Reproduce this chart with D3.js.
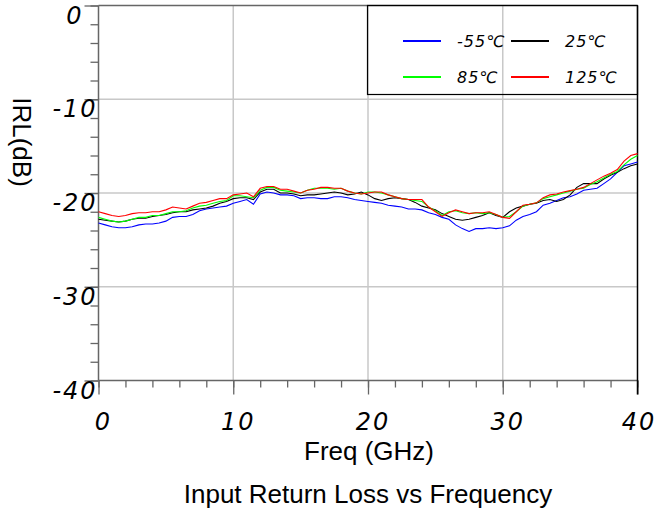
<!DOCTYPE html>
<html>
<head>
<meta charset="utf-8">
<title>Input Return Loss vs Frequency</title>
<script src="https://cdnjs.cloudflare.com/ajax/libs/d3/7.8.5/d3.min.js"></script>
<style>
  body { margin: 0; background: #fff; }
  .tk { font-family: "DejaVu Sans", sans-serif; font-style: italic; font-size: 24px; letter-spacing: 2px; fill: #000; }
  .lg { font-family: "DejaVu Sans", sans-serif; font-style: italic; font-size: 16px; letter-spacing: 1px; fill: #000; }
  .lab { font-family: "Liberation Sans", Arial, sans-serif; font-size: 26px; fill: #000; }
</style>
</head>
<body>
<div id="chart"></div>
<script>
// frequency points (GHz), read every 0.5 GHz
var freq = d3.range(0, 40.01, 0.5);

var irlM55 = [-23.2,-23.4,-23.6,-23.7,-23.7,-23.6,-23.4,-23.3,-23.3,-23.2,-23.0,-22.6,-22.5,-22.5,-22.3,-21.9,-21.7,-21.6,-21.5,-21.4,
  -21.1,-20.9,-20.7,-21.2,-20.1,-19.9,-20.0,-20.2,-20.2,-20.3,-20.6,-20.5,-20.5,-20.6,-20.6,-20.4,-20.4,-20.5,-20.7,-20.8,
  -20.9,-21.0,-21.1,-21.3,-21.4,-21.5,-21.7,-21.7,-21.8,-22.1,-22.3,-22.6,-22.8,-23.4,-23.8,-24.1,-23.8,-23.8,-23.7,-23.8,
  -23.7,-23.5,-22.9,-22.5,-22.3,-22.0,-21.3,-21.1,-20.8,-20.5,-20.4,-20.1,-19.7,-19.6,-19.5,-19.0,-18.5,-17.8,-17.1,-16.9,-16.7];

var irl25 = [-22.8,-22.9,-23.0,-23.1,-23.0,-22.8,-22.7,-22.7,-22.5,-22.4,-22.3,-22.1,-22.0,-22.0,-21.8,-21.7,-21.6,-21.4,-21.1,-20.9,
  -20.6,-20.5,-20.5,-20.7,-19.9,-19.6,-19.6,-20.0,-20.0,-20.1,-20.3,-20.2,-20.2,-20.1,-20.0,-19.9,-20.0,-20.2,-20.1,-19.9,
  -20.2,-20.6,-20.8,-20.6,-20.5,-20.6,-20.7,-21.0,-21.4,-21.6,-21.8,-22.2,-22.5,-22.8,-22.9,-22.8,-22.6,-22.4,-22.1,-22.4,
  -22.6,-22.0,-21.6,-21.4,-21.2,-21.1,-20.8,-20.7,-20.9,-20.7,-20.2,-19.4,-19.0,-19.0,-19.0,-18.5,-18.1,-17.8,-17.4,-17.1,-16.9];

var irl85 = [-22.6,-22.8,-23.0,-23.1,-23.0,-22.8,-22.6,-22.6,-22.4,-22.4,-22.2,-22.0,-22.0,-21.9,-21.6,-21.4,-21.3,-21.1,-20.9,-20.8,
  -20.3,-20.3,-20.4,-20.5,-19.7,-19.4,-19.4,-19.7,-19.8,-19.9,-20.0,-19.7,-19.5,-19.5,-19.5,-19.6,-19.5,-19.8,-20.0,-20.1,
  -19.9,-19.9,-20.0,-20.2,-20.4,-20.6,-20.7,-20.8,-20.9,-21.5,-21.9,-22.4,-22.0,-21.9,-22.1,-22.2,-22.1,-22.2,-22.1,-22.3,
  -22.6,-22.5,-22.0,-21.4,-21.2,-21.05,-20.6,-20.4,-20.2,-20.0,-19.8,-19.6,-19.5,-19.1,-18.8,-18.4,-18.0,-17.7,-17.0,-16.4,-16.0];

var irl125 = [-22.0,-22.2,-22.4,-22.5,-22.4,-22.2,-22.1,-22.1,-22.0,-22.0,-21.8,-21.5,-21.6,-21.7,-21.4,-21.1,-21.0,-20.8,-20.6,-20.6,
  -20.2,-20.1,-20.0,-20.4,-19.5,-19.3,-19.3,-19.6,-19.6,-19.8,-20.0,-19.7,-19.6,-19.4,-19.4,-19.5,-19.5,-19.8,-20.0,-20.1,
  -20.0,-19.9,-19.9,-20.2,-20.4,-20.6,-20.7,-20.7,-20.7,-21.5,-22.0,-22.5,-22.1,-21.8,-22.0,-22.2,-22.1,-22.1,-22.0,-22.3,
  -22.6,-22.7,-22.0,-21.3,-21.2,-21.05,-20.5,-20.2,-20.1,-19.9,-19.75,-19.6,-19.4,-19.0,-18.6,-18.2,-17.9,-17.5,-16.6,-16.0,-15.8];

var seriesNames = ["-55\u2103", "25\u2103", "85\u2103", "125\u2103"];
var seriesData = [irlM55, irl25, irl85, irl125];
var seriesColors = ["#0000ff", "#000000", "#00ff00", "#ff0000"];

var xMajor = [0, 10, 20, 30, 40];
var yMajor = [0, -10, -20, -30, -40];

var W = 659, H = 515;
var svg = d3.select('#chart').append('svg')
  .attr('width', W).attr('height', H);

var x = d3.scaleLinear().domain([0, 40]).range([98.5, 637.5]);
var y = d3.scaleLinear().domain([-40, 0]).range([380.5, 5.5]);

// grid
svg.append('g').selectAll('line').data([10, 20, 30]).enter().append('line')
  .attr('x1', function(d){ return x(d); }).attr('x2', function(d){ return x(d); })
  .attr('y1', y(0)).attr('y2', y(-40))
  .attr('stroke', '#c8c8c8').attr('stroke-width', 1.5);
svg.append('g').selectAll('line').data([-10, -20, -30]).enter().append('line')
  .attr('x1', x(0)).attr('x2', x(40))
  .attr('y1', function(d){ return y(d); }).attr('y2', function(d){ return y(d); })
  .attr('stroke', '#c8c8c8').attr('stroke-width', 1.5);

// axes: minor + major ticks
var axCol = '#666';
function styleAxis(g) {
  g.select('.domain').remove();
  g.selectAll('.tick line').attr('stroke', axCol).attr('stroke-width', 1.3);
  g.selectAll('.tick text').remove();
}
svg.append('g').attr('transform', 'translate(0,' + y(-40) + ')')
  .call(d3.axisBottom(x).tickValues(d3.range(0, 41, 2)).tickSize(7)).call(styleAxis);
svg.append('g').attr('transform', 'translate(0,' + y(-40) + ')')
  .call(d3.axisBottom(x).tickValues(xMajor).tickSize(14)).call(styleAxis);
svg.append('g').attr('transform', 'translate(' + x(0) + ',0)')
  .call(d3.axisLeft(y).tickValues(d3.range(-40, 1, 2)).tickSize(8)).call(styleAxis);
svg.append('g').attr('transform', 'translate(' + x(0) + ',0)')
  .call(d3.axisLeft(y).tickValues(yMajor).tickSize(14)).call(styleAxis);

// frame
svg.append('line').attr('x1', x(0)).attr('x2', x(0)).attr('y1', y(0)).attr('y2', y(-40))
  .attr('stroke', axCol).attr('stroke-width', 1.5);
svg.append('line').attr('x1', x(0)).attr('x2', x(40)).attr('y1', y(-40)).attr('y2', y(-40))
  .attr('stroke', axCol).attr('stroke-width', 1.5);
svg.append('line').attr('x1', x(0)).attr('x2', x(40)).attr('y1', y(0)).attr('y2', y(0))
  .attr('stroke', axCol).attr('stroke-width', 1.5);
svg.append('line').attr('x1', x(40)).attr('x2', x(40)).attr('y1', y(0)).attr('y2', y(-40) + 14)
  .attr('stroke', '#000').attr('stroke-width', 1.5);

// tick labels
svg.append('g').selectAll('text').data(xMajor).enter().append('text')
  .attr('class', 'tk').attr('text-anchor', 'middle')
  .attr('x', function(d){ return Math.min(x(d) + 5, 639); }).attr('y', 430)
  .text(function(d){ return d; });
svg.append('g').selectAll('text').data(yMajor).enter().append('text')
  .attr('class', 'tk').attr('text-anchor', 'middle')
  .attr('x', 75).attr('y', function(d){ return y(d) + 18; })
  .text(function(d){ return d === 0 ? '0' : '-' + Math.abs(d); });

// curves
var line = d3.line()
  .x(function(d, i){ return x(freq[i]); })
  .y(function(d){ return y(d); });
svg.append('g').selectAll('path').data(seriesData).enter().append('path')
  .attr('d', line)
  .attr('fill', 'none')
  .attr('stroke', function(d, i){ return seriesColors[i]; })
  .attr('stroke-width', 1.1);

// legend
var lg = svg.append('g');
lg.append('rect').attr('x', 367.5).attr('y', 5.5).attr('width', 270).attr('height', 89)
  .attr('fill', 'none').attr('stroke', '#000').attr('stroke-width', 1.2);
var lgPos = [[403, 41], [511, 41], [403, 77], [511, 77]];
seriesNames.forEach(function(name, k) {
  var p = lgPos[k];
  lg.append('line').attr('x1', p[0]).attr('x2', p[0] + 38).attr('y1', p[1]).attr('y2', p[1])
    .attr('stroke', seriesColors[k]).attr('stroke-width', 2);
  lg.append('text').attr('class', 'lg').attr('x', p[0] + 54).attr('y', p[1] + 6)
    .text(name);
});

// axis titles
svg.append('text').attr('class', 'lab').attr('text-anchor', 'middle')
  .attr('transform', 'translate(13,142) rotate(90)')
  .text('IRL(dB)');
svg.append('text').attr('class', 'lab').attr('text-anchor', 'middle')
  .attr('x', 369).attr('y', 460).text('Freq (GHz)');
svg.append('text').attr('class', 'lab').attr('text-anchor', 'middle')
  .attr('x', 368).attr('y', 503).text('Input Return Loss vs Frequency');
</script>
</body>
</html>
